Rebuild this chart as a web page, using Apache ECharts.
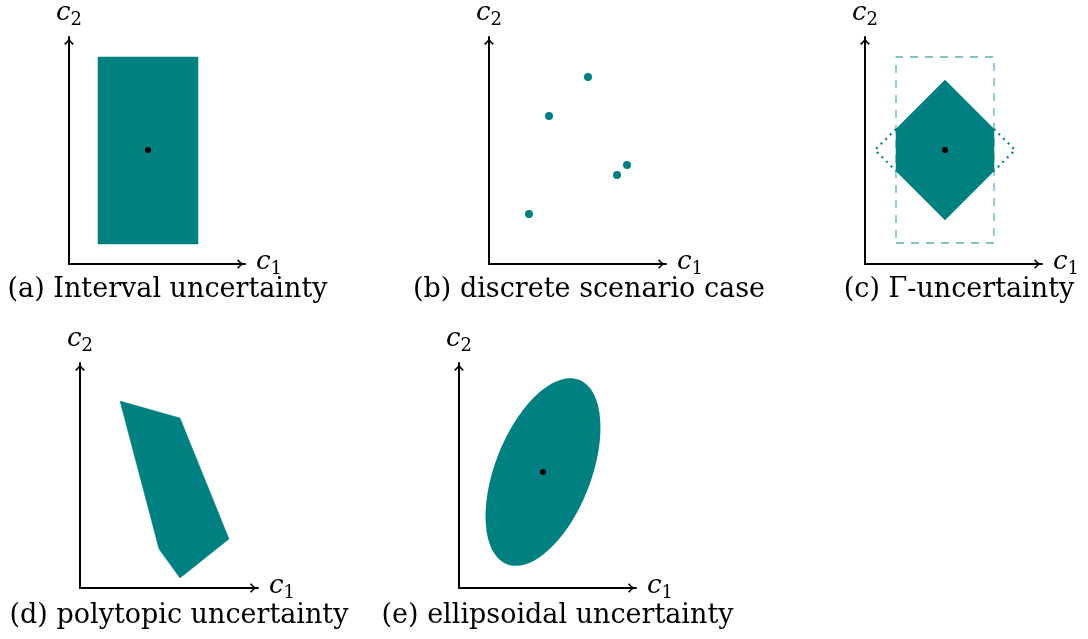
<!DOCTYPE html>
<html><head><meta charset="utf-8">
<script src="https://cdn.jsdelivr.net/npm/echarts@6/dist/echarts.min.js"></script>
<style>html,body{margin:0;padding:0;background:#fff}#c{width:1088px;height:639px}</style>
</head><body><div id="c"></div>
<script>
// ---- data (units: one axis unit per panel cell) ----
// (a) interval uncertainty
const intervalBox = [[2.9,2.0],[12.9,2.0],[12.9,20.7],[2.9,20.7]];
const intervalCenter = [[7.9,11.4]];
// (b) discrete scenarios
const scenarios = [[9.9,18.7],[6.0,14.8],[13.8,9.9],[12.8,8.9],[4.0,5.0]];
// (c) Gamma uncertainty
const gammaBox = [[3.1,2.1],[12.9,2.1],[12.9,20.7],[3.1,20.7],[3.1,2.1]];
const gammaSet = [[8.0,18.4],[12.9,13.5],[12.9,9.3],[8.0,4.4],[3.1,9.3],[3.1,13.5]];
const gammaTipLeft = [[3.1,13.5],[1.0,11.4],[3.1,9.3]];
const gammaTipRight = [[12.9,13.5],[15.0,11.4],[12.9,9.3]];
const gammaCenter = [[8.0,11.4]];
// (d) polytopic uncertainty
const polytope = [[4.0,18.7],[10.0,17.0],[14.9,4.9],[10.0,1.0],[7.9,3.9]];
// (e) ellipsoidal uncertainty
const ellipseCenter = [[8.4,11.6]];
const ellipseSemiAxes = [9.9, 4.8];
const ellipseAngleDeg = 68.6;
// axis extents per panel
const axisMaxX = [17.6, 17.7, 17.7, 17.8, 17.7];
const axisMaxY = [22.7, 22.7, 22.7, 22.5, 22.5];
const captions = ['(a) Interval uncertainty', '(b) discrete scenario case', '(c) \u0393-uncertainty', '(d) polytopic uncertainty', '(e) ellipsoidal uncertainty'];

// ---- layout / style ----
const TEAL = '#008080';
const SERIF = 'DejaVu Serif';
const grids = [
  {left:69, top:37, width:176, height:227},
  {left:489, top:37, width:177, height:227},
  {left:865, top:37, width:177, height:227},
  {left:80, top:363, width:178, height:225},
  {left:459, top:363, width:177, height:225}
];
const captionPos = [[167.5,290],[589,290],[959,290],[179,616],[557.5,616]];
const arrowPath = 'path://M5,0 C5.7,3 7.6,5.4 10,6.8 L9,8.3 C7.3,7 5.9,5.5 5,3.4 C4.1,5.5 2.7,7 1,8.3 L0,6.8 C2.4,5.4 4.3,3 5,0 Z';
const rich = {
  v: {fontFamily: SERIF, fontStyle: 'italic', fontSize: 26, color: '#000', verticalAlign: 'bottom', padding: [0,0,3,0]},
  s: {fontFamily: SERIF, fontSize: 18, color: '#000', verticalAlign: 'bottom'}
};
function axis(i, max, name, gap) {
  return {
    type: 'value', gridIndex: i, min: 0, max: max,
    axisLine: {show: true, onZero: false, lineStyle: {color: '#000', width: 2},
      symbol: ['none', arrowPath], symbolSize: [11, 8], symbolOffset: [0, -4]},
    axisTick: {show: false}, axisLabel: {show: false}, splitLine: {show: false},
    name: name, nameLocation: 'end', nameGap: gap,
    nameTextStyle: {rich: rich}
  };
}
const xAxes = [], yAxes = [];
for (let i = 0; i < 5; i++) {
  xAxes.push(axis(i, axisMaxX[i], '{v|c}{s|1}', 11));
  yAxes.push(axis(i, axisMaxY[i], '{v|c}{s|2}', 8));
}
function polygonSeries(i, pts, extra) {
  return Object.assign({
    type: 'custom', xAxisIndex: i, yAxisIndex: i, silent: true,
    data: pts,
    renderItem: function (params, api) {
      if (params.context.rendered) return;
      params.context.rendered = true;
      const p = [];
      for (let k = 0; k < params.dataInsideLength; k++) {
        p.push(api.coord([api.value(0, k), api.value(1, k)]));
      }
      return {type: 'polygon', shape: {points: p}, style: {fill: TEAL, stroke: TEAL, lineWidth: 0.5}};
    }
  }, extra || {});
}
function dotSeries(i, pts, color, size) {
  return {type: 'scatter', xAxisIndex: i, yAxisIndex: i, data: pts, symbolSize: size,
    itemStyle: {color: color, opacity: 1}, silent: true, z: 5};
}
function lineSeries(i, pts, style) {
  return {type: 'line', xAxisIndex: i, yAxisIndex: i, data: pts, symbol: 'none',
    lineStyle: style, silent: true, z: 3};
}
const series = [
  polygonSeries(0, intervalBox),
  dotSeries(0, intervalCenter, '#000', 6),
  dotSeries(1, scenarios, TEAL, 8),
  lineSeries(2, gammaBox, {color: 'rgba(0,128,128,0.62)', width: 1.3, type: [8, 7]}),
  polygonSeries(2, gammaSet, {z: 4}),
  lineSeries(2, gammaTipLeft, {color: TEAL, width: 2.2, type: [2, 4.5]}),
  lineSeries(2, gammaTipRight, {color: TEAL, width: 2.2, type: [2, 4.5]}),
  dotSeries(2, gammaCenter, '#000', 6),
  polygonSeries(3, polytope),
  {
    type: 'custom', xAxisIndex: 4, yAxisIndex: 4, silent: true, data: ellipseCenter,
    renderItem: function (params, api) {
      const c = api.coord([api.value(0), api.value(1)]);
      const rx = api.size([ellipseSemiAxes[0], 0])[0];
      const ry = api.size([0, ellipseSemiAxes[1]])[1];
      return {type: 'ellipse', x: c[0], y: c[1], rotation: ellipseAngleDeg * Math.PI / 180,
        shape: {cx: 0, cy: 0, rx: rx, ry: ry}, style: {fill: TEAL}};
    }
  },
  dotSeries(4, ellipseCenter, '#000', 6)
];
const graphic = captions.map(function (t, i) {
  return {type: 'text', x: captionPos[i][0], y: captionPos[i][1], silent: true,
    style: {text: t, fontFamily: SERIF, fontSize: 27, fill: '#000', align: 'center', verticalAlign: 'middle'}};
});
const chart = echarts.init(document.getElementById('c'));
chart.setOption({
  animation: false,
  grid: grids.map(function (g) { return Object.assign({outerBoundsMode: 'none', containLabel: false}, g); }),
  xAxis: xAxes, yAxis: yAxes, series: series, graphic: graphic
});
</script></body></html>
